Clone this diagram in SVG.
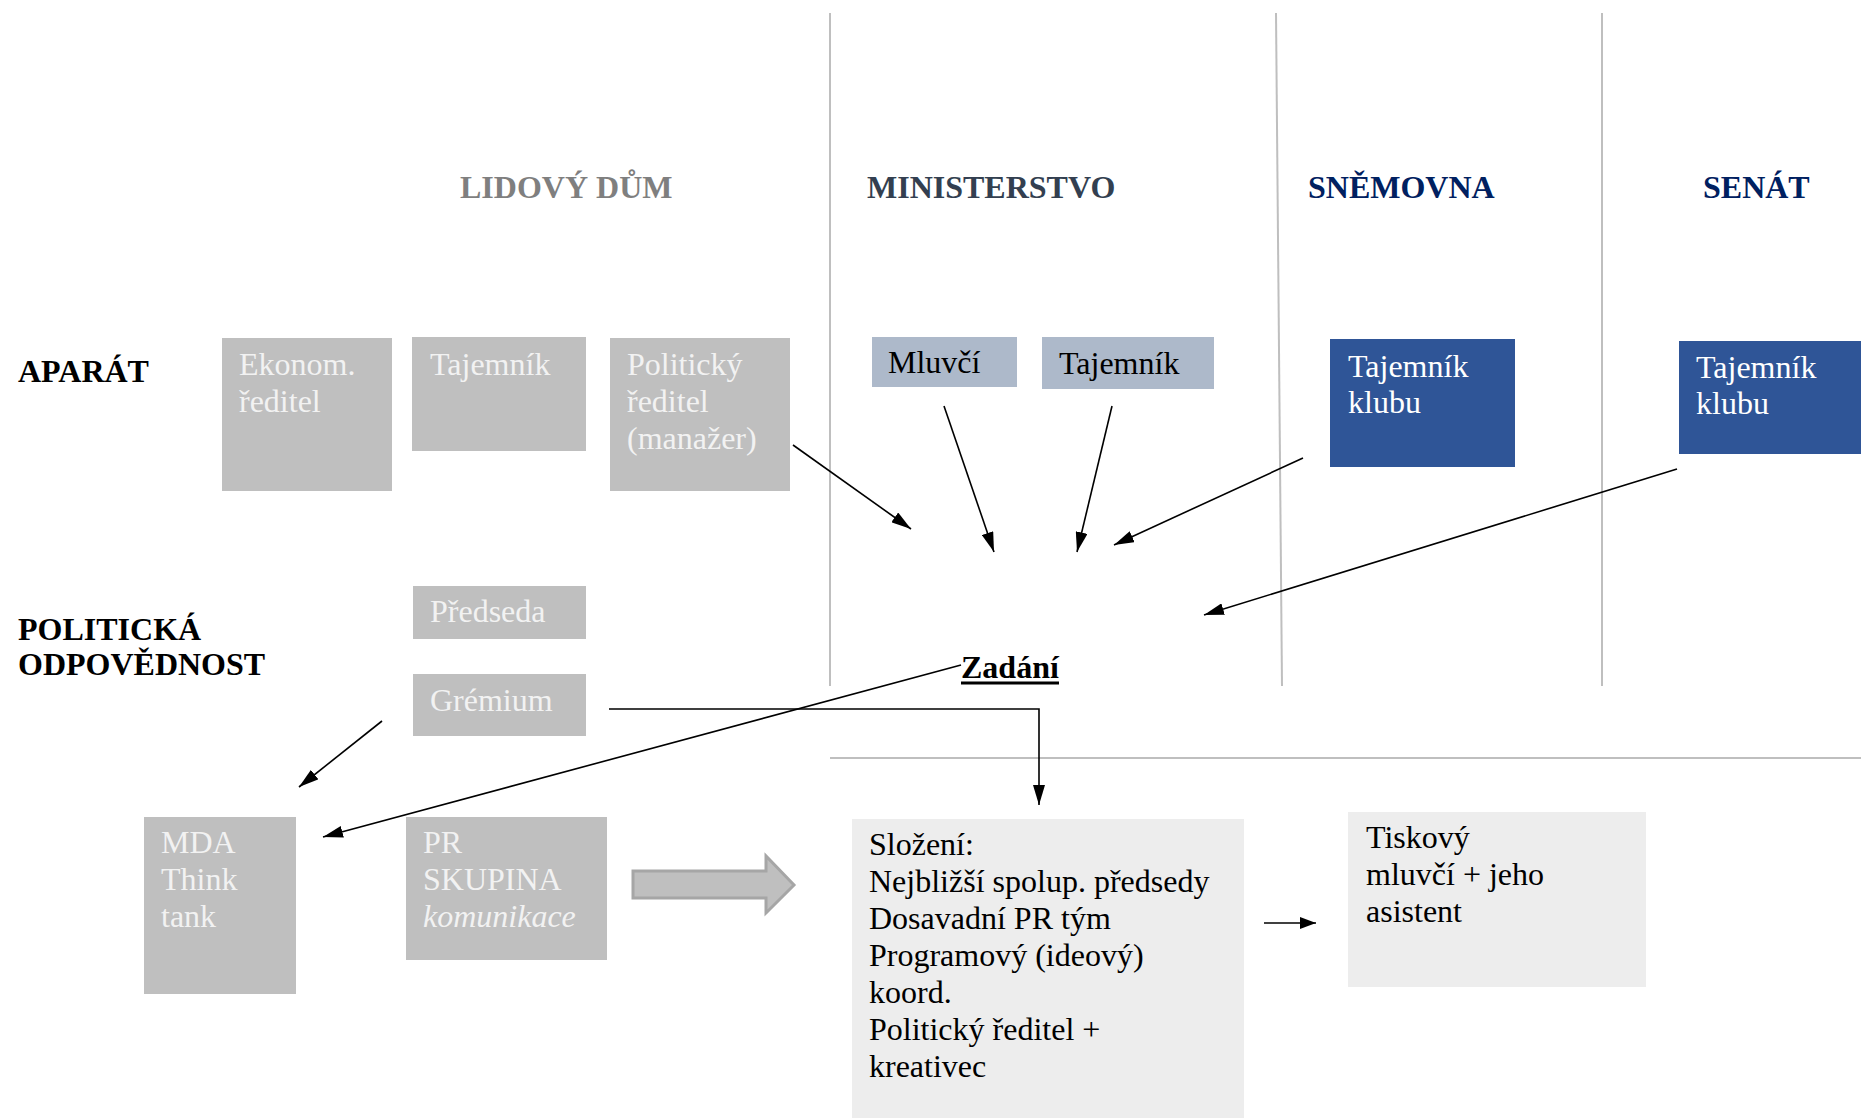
<svg xmlns="http://www.w3.org/2000/svg" width="1861" height="1118" viewBox="0 0 1861 1118">
<style>
text{font-family:"Liberation Serif","Times New Roman",serif;font-size:32px}
.hdr{font-weight:bold}
.lbl{font-weight:bold;fill:#000}
.gbox{fill:#bfbfbf}
.wt{fill:#f2f2f2}
.bt{fill:#000}
.sep{stroke:#bfbfbf;stroke-width:2;fill:none}
.con{stroke:#000;stroke-width:1.6;fill:none}
</style>
<defs>
<marker id="ah" viewBox="0 0 20 12" markerWidth="20" markerHeight="12" refX="20" refY="6" orient="auto" markerUnits="userSpaceOnUse">
<path d="M0,0 L20,6 L0,12 z" fill="#000"/>
</marker>
<marker id="ahs" viewBox="0 0 16 12" markerWidth="16" markerHeight="12" refX="16" refY="6" orient="auto" markerUnits="userSpaceOnUse">
<path d="M0,0 L16,6 L0,12 z" fill="#000"/>
</marker>
</defs>
<rect width="1861" height="1118" fill="#fff"/>
<g id="separators">
<line class="sep" x1="830" y1="13" x2="830" y2="686"/>
<line class="sep" x1="1276" y1="13" x2="1282" y2="686"/>
<line class="sep" x1="1602" y1="13" x2="1602" y2="686"/>
<line class="sep" x1="830" y1="758" x2="1861" y2="758"/>
</g>
<g id="headers">
<text class="hdr" x="460" y="198" fill="#7f7f7f">LIDOVÝ DŮM</text>
<text class="hdr" x="867" y="198" fill="#333f50">MINISTERSTVO</text>
<text class="hdr" x="1308" y="198" fill="#002060">SNĚMOVNA</text>
<text class="hdr" x="1703" y="198" fill="#002060">SENÁT</text>
<text class="lbl" x="18" y="382">APARÁT</text>
<text class="lbl" x="18" y="640">POLITICKÁ</text>
<text class="lbl" x="18" y="675">ODPOVĚDNOST</text>
</g>
<g id="ekonom">
<rect class="gbox" x="222" y="338" width="170" height="153"/>
<text class="wt" x="239" y="375">Ekonom.</text>
<text class="wt" x="239" y="412">ředitel</text>
</g>
<g id="tajemnik-ld">
<rect class="gbox" x="412" y="337" width="174" height="114"/>
<text class="wt" x="430" y="375">Tajemník</text>
</g>
<g id="politicky-reditel">
<rect class="gbox" x="610" y="338" width="180" height="153"/>
<text class="wt" x="627" y="375">Politický</text>
<text class="wt" x="627" y="412">ředitel</text>
<text class="wt" x="627" y="449">(manažer)</text>
</g>
<g id="mluvci">
<rect x="872" y="337" width="145" height="50" fill="#adb9ca"/>
<text class="bt" x="888" y="373">Mluvčí</text>
</g>
<g id="tajemnik-min">
<rect x="1042" y="337" width="172" height="52" fill="#adb9ca"/>
<text class="bt" x="1059" y="374">Tajemník</text>
</g>
<g id="tajemnik-klubu-psp">
<rect x="1330" y="339" width="185" height="128" fill="#2f5597"/>
<text fill="#fff" x="1348" y="377">Tajemník</text>
<text fill="#fff" x="1348" y="413">klubu</text>
</g>
<g id="tajemnik-klubu-senat">
<rect x="1679" y="341" width="182" height="113" fill="#2f5597"/>
<text fill="#fff" x="1696" y="378">Tajemník</text>
<text fill="#fff" x="1696" y="414">klubu</text>
</g>
<g id="predseda">
<rect class="gbox" x="413" y="586" width="173" height="53"/>
<text class="wt" x="430" y="622">Předseda</text>
</g>
<g id="gremium">
<rect class="gbox" x="413" y="674" width="173" height="62"/>
<text class="wt" x="430" y="711">Grémium</text>
</g>
<g id="zadani">
<text class="lbl" x="961" y="678">Zadání</text>
<line x1="961" y1="683" x2="1059" y2="683" stroke="#000" stroke-width="3"/>
</g>
<g id="mda">
<rect class="gbox" x="144" y="817" width="152" height="177"/>
<text class="wt" x="161" y="853">MDA</text>
<text class="wt" x="161" y="890">Think</text>
<text class="wt" x="161" y="927">tank</text>
</g>
<g id="pr-skupina">
<rect class="gbox" x="406" y="817" width="201" height="143"/>
<text class="wt" x="423" y="853">PR</text>
<text class="wt" x="423" y="890">SKUPINA</text>
<text class="wt" x="423" y="927" font-style="italic">komunikace</text>
</g>
<g id="slozeni">
<rect x="852" y="819" width="392" height="299" fill="#ededed"/>
<text class="bt" x="869" y="855">Složení:</text>
<text class="bt" x="869" y="892">Nejbližší spolup. předsedy</text>
<text class="bt" x="869" y="929">Dosavadní PR tým</text>
<text class="bt" x="869" y="966">Programový (ideový)</text>
<text class="bt" x="869" y="1003">koord.</text>
<text class="bt" x="869" y="1040">Politický ředitel +</text>
<text class="bt" x="869" y="1077">kreativec</text>
</g>
<g id="tiskovy-mluvci">
<rect x="1348" y="812" width="298" height="175" fill="#ededed"/>
<text class="bt" x="1366" y="848">Tiskový</text>
<text class="bt" x="1366" y="885">mluvčí + jeho</text>
<text class="bt" x="1366" y="922">asistent</text>
</g>
<g id="connectors">
<line class="con" x1="793" y1="445" x2="911" y2="529" marker-end="url(#ah)"/>
<line class="con" x1="944" y1="406" x2="994" y2="552" marker-end="url(#ah)"/>
<line class="con" x1="1112" y1="406" x2="1077" y2="552" marker-end="url(#ah)"/>
<line class="con" x1="1303" y1="458" x2="1114" y2="545" marker-end="url(#ah)"/>
<line class="con" x1="1677" y1="469" x2="1204" y2="615" marker-end="url(#ah)"/>
<line class="con" x1="961" y1="665" x2="323" y2="837" marker-end="url(#ah)"/>
<line class="con" x1="382" y1="721" x2="299" y2="787" marker-end="url(#ah)"/>
<polyline class="con" points="609,709 1039,709 1039,805" marker-end="url(#ah)"/>
<line class="con" x1="1264" y1="923" x2="1316" y2="923" stroke-width="2" marker-end="url(#ahs)"/>
<path d="M633,871 L766,871 L766,856 L794,885 L766,913 L766,898 L633,898 Z" fill="#bfbfbf" stroke="#a6a6a6" stroke-width="3"/>
</g>
</svg>
